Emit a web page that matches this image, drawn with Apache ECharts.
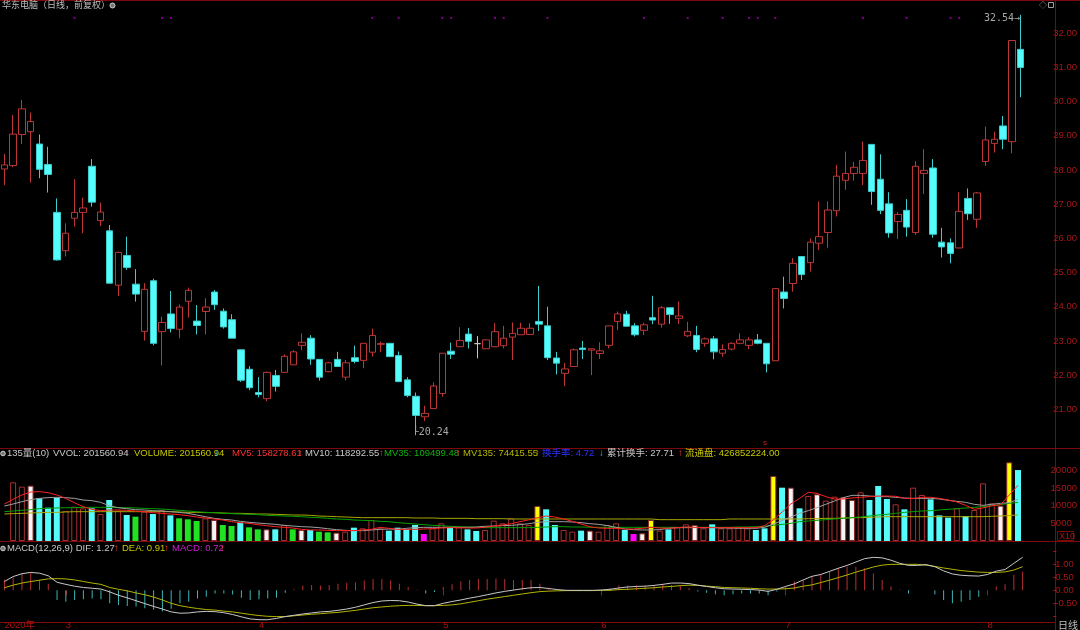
<!DOCTYPE html>
<html><head><meta charset="utf-8">
<script src="https://cdn.jsdelivr.net/npm/echarts@6/dist/echarts.min.js"></script>
<style>html,body{margin:0;padding:0;background:#000;}#c{width:1080px;height:630px;}</style>
</head><body><div id="c"></div>
<script>
// ---------- data ----------
const opens = [28.03,28.13,29.04,29.12,28.76,28.16,26.76,25.64,26.59,26.76,
28.11,26.52,26.22,24.63,25.50,24.66,23.28,24.76,23.27,23.79,
23.34,24.16,23.58,23.86,24.43,23.87,23.62,22.74,22.17,21.49,
21.31,21.99,22.08,22.30,22.87,23.08,22.46,22.10,22.46,21.94,
22.51,22.43,22.67,22.90,22.93,22.57,21.86,21.38,20.78,21.02,
21.46,22.70,22.83,23.20,22.92,22.77,22.83,22.86,23.11,23.18,
23.19,23.57,23.44,22.50,22.05,22.25,22.79,22.73,22.63,22.87,
23.57,23.78,23.44,23.31,23.68,23.49,23.97,23.66,23.15,23.16,
22.93,23.06,22.64,22.76,22.93,22.87,23.03,22.93,22.42,24.43,
24.68,25.47,25.29,25.86,26.17,26.81,27.70,27.90,27.90,28.75,
27.73,27.01,26.49,26.82,26.17,27.90,28.06,25.89,25.87,25.72,
27.17,26.56,28.25,28.78,29.29,28.83,31.53];
const closes = [28.15,29.05,29.79,29.42,28.02,27.87,25.37,26.15,26.76,26.89,
27.06,26.77,24.69,25.59,25.15,24.37,24.51,22.93,23.54,23.36,
23.99,24.48,23.45,23.99,24.06,23.41,23.08,21.85,21.63,21.43,
22.08,21.67,22.55,22.68,22.96,22.47,21.94,22.36,22.25,22.36,
22.40,22.93,23.16,22.92,22.54,21.81,21.40,20.82,20.88,21.68,
22.64,22.61,23.01,22.99,22.92,23.03,23.27,23.08,23.22,23.37,
23.37,23.49,22.51,22.35,22.18,22.74,22.75,22.77,22.71,23.44,
23.79,23.43,23.18,23.47,23.61,23.97,23.77,23.73,23.28,22.75,
23.06,22.68,22.75,22.93,23.03,23.03,22.93,22.33,24.53,24.24,
25.27,24.94,25.89,26.05,26.83,27.82,27.90,28.08,28.28,27.37,
26.82,26.16,26.70,26.33,28.11,27.99,26.12,25.75,25.56,26.79,
26.72,27.33,28.88,28.90,28.90,31.79,31.00];
const lows = [27.56,28.08,28.76,27.63,27.76,27.34,25.35,25.47,26.34,26.15,
26.93,26.36,24.68,24.31,25.08,24.15,23.01,22.87,22.28,23.25,
23.08,23.68,23.19,23.19,23.91,23.36,23.08,21.80,21.56,21.35,
21.24,21.52,22.07,22.30,22.73,22.30,21.84,22.08,22.25,21.84,
22.34,22.20,22.54,22.67,22.54,21.79,21.35,20.24,20.66,21.01,
21.37,22.47,22.83,22.78,22.49,22.76,22.83,22.78,22.44,23.18,
23.17,23.29,22.44,22.02,21.68,22.25,22.47,22.00,22.47,22.78,
23.32,23.42,23.13,23.17,23.49,23.39,23.50,23.49,23.11,22.67,
22.83,22.46,22.54,22.72,22.90,22.76,22.90,22.08,22.42,23.95,
24.44,24.78,25.03,25.66,25.73,26.64,27.42,27.69,27.56,26.98,
26.71,26.02,25.98,26.05,26.10,27.30,26.02,25.44,25.27,25.71,
26.54,26.31,28.12,28.51,28.61,28.49,30.13];
const highs = [28.47,29.61,30.05,29.68,29.04,28.68,27.17,26.44,27.73,27.19,
28.32,27.05,26.39,25.61,26.05,25.10,24.69,24.82,23.71,24.46,
24.07,24.56,24.05,24.25,24.49,23.95,23.78,22.74,22.26,21.94,
22.10,22.15,22.61,22.73,23.22,23.17,22.46,22.39,22.68,22.44,
22.86,22.93,23.36,22.98,22.93,22.69,21.94,21.49,21.10,21.79,
22.64,22.95,23.40,23.38,23.14,23.05,23.52,23.44,23.54,23.53,
23.52,24.61,24.00,22.68,22.35,22.78,23.00,22.78,22.96,23.44,
23.86,23.88,23.52,23.53,24.32,24.02,23.97,24.15,23.56,23.44,
23.10,23.14,22.90,22.96,23.22,23.11,23.20,22.93,24.55,24.88,
25.42,25.47,26.00,27.08,27.08,28.15,28.54,28.24,28.83,28.75,
28.46,27.35,26.77,27.15,28.26,28.61,28.32,26.31,26.00,27.35,
27.46,27.36,29.27,29.12,29.58,31.79,32.54];

const volumes = [null,166700,154400,157200,121200,94700,123100,85200,97500,92800,
92800,76700,116500,86200,73900,69100,83300,76700,88100,72900,
64400,61600,56800,64400,59700,45500,42600,52100,38800,33100,
33100,33100,45500,33100,31300,31300,26500,24600,23700,26500,
37900,36000,59700,36000,29400,37900,33100,45500,19900,36000,
50200,38800,38800,33100,28400,31300,57800,50200,64400,50200,
45500,99400,90000,45500,31300,26500,29400,29400,26500,45500,
50200,31300,19900,21800,59700,29400,33100,38800,47300,45500,
36000,47300,36000,36000,38800,36000,31300,36000,184700,151500,
151500,92800,127800,132600,114600,125900,124100,116500,138300,116500,
156300,119300,104200,90000,151500,130700,118400,72900,66300,92800,
71000,88100,163800,107000,100400,223500,201561];
// bar class of the "135量" indicator: R hollow red, C cyan, W white, G green, Y yellow, M magenta
const volKind = "-RRWCCCRRR" + "CRCRCGRCRC" + "GGGRWGGCGG" + "WCRGWCGGWR" + "CRRRCCCCMR" +
                "RCRCCRRRRR" + "RYCCRRCWRR" + "RCMWYRCRRW" + "RCRRRRCCYC" + "WCRWRRWWRC" +
                "CCRCRRCCCR" + "CRRRWYC";

const mv5 = [105100,118400,130700,139200,140200,137300,130700,121200,108900,97500,
90000,86200,88100,88100,87100,85200,83300,80500,78600,76700,
74800,72000,68200,65300,62500,59700,54900,52100,50200,46400,
43600,40700,38800,36900,33100,31300,31300,30300,29400,29400,
29400,31300,33100,38800,36000,33100,33100,33100,34100,35000,
36900,37900,37900,36900,36900,38800,42600,45500,49200,54900,
60000,66000,71000,68200,62500,55900,48300,40700,36900,36000,
36000,34100,34100,36000,38800,36900,36000,37900,39800,38800,
37900,37900,37900,37900,37900,37900,37900,43600,60000,82000,
105000,121200,138300,135400,126000,119300,119300,122200,124100,126000,
127800,127800,126900,121200,120300,124100,124100,121200,116500,110800,
101300,90000,94000,100000,103200,130700,158279];
const mv10 = [99400,105100,111700,117400,121200,123100,124100,123100,121200,116500,
114600,109900,100400,94700,91900,89000,88100,86200,85200,83300,
81400,78600,73900,69100,64400,61600,59700,55900,53000,51100,
49200,47400,44500,42600,40700,39800,37900,35000,32200,30300,
29400,29400,31300,33100,34100,33100,36000,37900,38800,38800,
38800,38800,38800,38800,39800,41700,42600,43600,44500,46400,
49000,53000,54900,54900,54900,54000,52100,49200,47400,43600,
38800,34100,32200,31300,31300,32200,36000,37900,37900,37900,
37900,37900,36900,36900,36000,36000,36000,38800,48000,58000,
68000,78600,86200,94700,104200,113600,123100,129700,129700,127800,
126000,126000,124100,122200,121200,121200,121200,119300,115500,112700,
109900,104200,101300,104200,107000,108900,118293];
const mv35 = [83300,85200,87100,89000,91900,92800,93800,94700,94700,95600,
95600,95600,95600,94700,94700,93800,92800,91900,90900,89000,
87100,85200,83300,81400,80500,78600,77700,76700,75800,74800,
72900,72000,71000,70100,69100,67200,66300,64400,62500,61600,
59700,58700,57800,55900,54900,52100,50200,48300,46400,44500,
43600,41700,40700,39800,38800,37900,37900,37900,37900,37900,
37900,38800,39800,40700,40700,39800,39800,38800,38800,38800,
38800,38800,38800,38800,38800,38800,38800,38800,38800,38800,
38800,38800,38800,38800,39800,39800,40700,41700,44500,47400,
50200,54900,56800,58700,60600,62500,64400,66300,68200,71000,
73900,75800,78600,81400,83300,85200,86200,88100,90000,91900,
93800,95600,97500,100400,103200,107000,109499];
const mv135 = [76700,77700,78600,79500,80500,81400,81400,82400,83300,83300,
83300,83300,83300,83300,83300,83300,83300,83300,83300,83300,
82400,81400,81400,80500,80500,79500,78600,78600,77700,76700,
76700,75800,74800,73900,73900,72900,71000,70100,69100,68200,
67200,66300,66300,66300,66300,66300,66300,65300,65300,65300,
64400,64400,64400,64400,63400,63400,63400,63400,62500,62500,
62500,62500,62500,62500,62500,62500,62500,62500,62500,62500,
62500,62500,62500,62500,62500,60600,60600,60600,60600,60600,
60600,60600,60600,62500,62500,62500,62500,62500,62500,62500,
62500,62500,63400,63400,64400,64400,65300,66300,66300,67200,
68200,69100,69100,69100,69100,69100,69100,69100,69100,69100,
69100,69100,69100,70100,71000,72000,74416];

const dif = [0.34,0.53,0.64,0.69,0.66,0.56,0.31,0.23,0.16,0.11,
0.08,0.05,-0.06,-0.19,-0.29,-0.40,-0.51,-0.62,-0.72,-0.83,
-0.88,-0.87,-0.83,-0.81,-0.82,-0.86,-0.93,-1.02,-1.10,-1.13,
-1.13,-1.08,-1.01,-0.96,-0.91,-0.87,-0.83,-0.81,-0.77,-0.72,
-0.65,-0.56,-0.47,-0.41,-0.39,-0.40,-0.45,-0.53,-0.59,-0.59,
-0.50,-0.43,-0.37,-0.30,-0.24,-0.17,-0.10,-0.04,0.01,0.06,
0.10,0.11,0.07,0.03,0.00,0.00,0.00,0.00,0.01,0.04,
0.09,0.13,0.15,0.16,0.19,0.23,0.28,0.28,0.26,0.20,
0.15,0.10,0.06,0.05,0.04,0.03,0.01,-0.04,0.04,0.15,
0.25,0.40,0.54,0.61,0.73,0.85,0.96,1.09,1.22,1.27,
1.25,1.16,1.04,0.96,0.96,0.99,0.91,0.75,0.63,0.58,
0.56,0.55,0.61,0.74,0.80,1.04,1.27];
const dea = [0.10,0.20,0.28,0.34,0.39,0.44,0.45,0.44,0.40,0.34,
0.28,0.23,0.11,0.04,-0.02,-0.10,-0.17,-0.26,-0.37,-0.50,
-0.59,-0.65,-0.70,-0.74,-0.76,-0.80,-0.83,-0.88,-0.93,-0.97,
-1.00,-1.01,-1.01,-0.98,-0.95,-0.92,-0.90,-0.87,-0.85,-0.81,
-0.77,-0.72,-0.67,-0.64,-0.61,-0.59,-0.58,-0.58,-0.59,-0.59,
-0.58,-0.56,-0.52,-0.46,-0.40,-0.34,-0.29,-0.24,-0.19,-0.14,
-0.09,-0.05,-0.03,-0.02,-0.01,-0.01,-0.01,-0.01,0.00,0.00,
0.03,0.04,0.06,0.08,0.10,0.13,0.15,0.18,0.20,0.19,
0.16,0.14,0.11,0.10,0.09,0.08,0.06,0.05,0.05,0.06,
0.09,0.16,0.21,0.30,0.39,0.49,0.59,0.70,0.80,0.90,
0.97,1.00,1.00,1.00,1.00,0.97,0.92,0.86,0.81,0.76,
0.73,0.70,0.69,0.69,0.71,0.78,0.91];
const macd = [0.41,0.50,0.66,0.69,0.41,0.25,-0.37,-0.44,-0.37,-0.34,
-0.31,-0.34,-0.50,-0.56,-0.60,-0.62,-0.69,-0.75,-0.81,-0.71,
-0.50,-0.44,-0.31,-0.25,-0.12,-0.12,-0.16,-0.29,-0.37,-0.34,
-0.31,-0.29,-0.09,0.04,0.19,0.21,0.19,0.21,0.25,0.29,
0.31,0.38,0.44,0.44,0.38,0.25,0.13,0.02,-0.12,-0.06,
0.13,0.23,0.35,0.40,0.44,0.44,0.46,0.44,0.40,0.40,
0.40,0.25,0.10,0.04,0.02,0.00,-0.01,0.00,0.02,0.09,
0.19,0.19,0.19,0.19,0.19,0.25,0.21,0.19,0.09,-0.04,
-0.09,-0.15,-0.19,-0.15,-0.12,-0.12,-0.12,-0.19,-0.04,0.13,
0.34,0.40,0.54,0.63,0.73,0.85,0.91,0.91,0.85,0.65,
0.40,0.15,0.02,-0.12,0.00,0.00,-0.16,-0.37,-0.50,-0.44,
-0.37,-0.25,0.00,0.15,0.23,0.60,0.72];

const infoMineIdx = [8,18,19,42,45,50,51,56,57,62,73,78,82,85,86,88,98,103,108,109];
const infoMineLevel = 32.45;
const monthStartIdx = [0,7,29,50,68,89,112];
const monthNames = ['2020年','3','4','5','6','7','8'];

// ---------- layout / styles ----------
const SLOTS = 120;
const cats = Array.from({length: SLOTS}, (_, i) => i);
const GL = -1, GW = 1056;
const RED = '#be3636', CYAN = '#54fcfc', AXIS = '#7c0a0a', LBL = '#a81818';
const FONT = '"Liberation Sans","Noto Sans CJK SC",sans-serif';

const kinds = {
  R: {color: '#000', borderColor: '#a83030', borderWidth: 1},
  C: {color: CYAN, borderColor: CYAN, borderWidth: 0},
  W: {color: '#f4f4f4', borderColor: '#8a2a2a', borderWidth: 1},
  G: {color: '#22e022', borderColor: '#22e022', borderWidth: 0},
  Y: {color: '#ffff00', borderColor: '#8a2a2a', borderWidth: 1},
  M: {color: '#ff00ff', borderColor: '#ff00ff', borderWidth: 0}
};
const volData = volumes.map((v, i) => v == null ? '-' : {value: v, itemStyle: kinds[volKind[i]]});
const kData = opens.map((o, i) => [o, closes[i], lows[i], highs[i]]);
const macdData = macd.map(v => ({value: v, itemStyle: {color: v >= 0 ? '#b83030' : '#3cb4b8'}}));

let hiIdx = 0, loIdx = 0;
highs.forEach((h, i) => { if (h > highs[hiIdx]) hiIdx = i; });
lows.forEach((l, i) => { if (l < lows[loIdx]) loIdx = i; });

function txt(x, y, text, color, size) {
  return {type: 'text', x: x, y: y, silent: true,
    style: {text: text, fill: color, fontSize: size || 9.5, fontFamily: FONT, verticalAlign: 'middle'}};
}
function hline(y, x1, x2) { return {type: 'line', silent: true, shape: {x1: x1, y1: y, x2: x2, y2: y}, style: {stroke: AXIS, lineWidth: 1}}; }

const UP = '#ff3c3c', DN = '#30c8c8';
const volLegend = [
  [7,'135量(10)','#c8c8c8'],[53,'VVOL: 201560.94','#c8c8c8'],[125,'↑',UP],
  [134,'VOLUME: 201560.94','#c8c800'],[214,'↓',DN],
  [232,'MV5: 158278.61','#ff3030'],[298,'↑',UP],
  [305,'MV10: 118292.55','#c8c8c8'],[379,'↑',UP],
  [384,'MV35: 109499.48','#10b010'],[456,'↑',UP],
  [463,'MV135: 74415.55','#b8b800'],[535,'↑',UP],
  [542,'换手率: 4.72','#3030ff'],[599,'↓',DN],
  [607,'累计换手: 27.71','#c8c8c8'],[678,'↑',UP],
  [685,'流通盘: 426852224.00','#c8c800']
];
const macdLegend = [
  [7,'MACD(12,26,9) DIF: 1.27','#c8c8c8'],[114,'↑',UP],
  [122,'DEA: 0.91','#c8c800'],[164,'↑',UP],
  [172,'MACD: 0.72','#d020d0'],[220,'↑',UP]
];

const graphics = [
  hline(0.5, 0, 1080), hline(448.5, 0, 1080), hline(541.5, 0, 1080), hline(622.5, 0, 1056),
  {type: 'line', silent: true, shape: {x1: 1055.5, y1: 0, x2: 1055.5, y2: 630}, style: {stroke: AXIS, lineWidth: 1}},
  txt(2, 6, '华东电脑（日线，前复权）', '#c0c0c0', 9),
  {type: 'circle', silent: true, shape: {cx: 112.5, cy: 5.5, r: 2.5}, style: {fill: '#777', stroke: '#cfcfcf', lineWidth: 1}},
  txt(1039, 6, '◇', '#a0a0a0', 8),
  {type: 'rect', silent: true, shape: {x: 1048.5, y: 2.5, width: 5, height: 5}, style: {fill: '#000', stroke: '#a0a0a0', lineWidth: 1}},
  {type: 'circle', silent: true, shape: {cx: 3, cy: 453.5, r: 2.3}, style: {fill: '#777', stroke: '#cfcfcf', lineWidth: 1}},
  {type: 'circle', silent: true, shape: {cx: 3, cy: 548.5, r: 2.3}, style: {fill: '#777', stroke: '#cfcfcf', lineWidth: 1}},
  txt(763, 443, 's', '#d02020', 8),
  {type: 'rect', silent: true, shape: {x: 1057.5, y: 531.5, width: 16, height: 9}, style: {fill: 'none', stroke: AXIS, lineWidth: 1}},
  txt(1059, 536.5, 'X10', LBL, 9),
  txt(1058, 626, '日线', '#c0c0c0', 10)
].concat(volLegend.map(s => txt(s[0], 453.5, s[1], s[2])))
 .concat(macdLegend.map(s => txt(s[0], 548.5, s[1], s[2])));

const hiddenX = (gi) => ({type: 'category', data: cats, gridIndex: gi, boundaryGap: true,
  axisLine: {show: false}, axisTick: {show: false}, axisLabel: {show: false}, splitLine: {show: false}});

const option = {
  backgroundColor: '#000',
  animation: false,
  grid: [
    {left: GL, width: GW, top: 5, height: 442},
    {left: GL, width: GW, top: 448, height: 93},
    {left: GL, width: GW, top: 541, height: 81.7}
  ],
  xAxis: [hiddenX(0), hiddenX(1), {
    type: 'category', data: cats, gridIndex: 2, boundaryGap: true,
    axisLine: {show: false},
    axisTick: {show: true, alignWithLabel: true, length: 5, lineStyle: {color: '#a01818'},
      interval: (i) => monthStartIdx.indexOf(i) > 0},
    axisLabel: {show: true, interval: (i) => monthStartIdx.indexOf(i) >= 0,
      formatter: (v, i) => { const k = monthStartIdx.indexOf(i); return k >= 0 ? monthNames[k] : ''; },
      align: 'left', margin: 0, padding: [0, 0, 0, 0], color: '#b01010', fontSize: 9.5, fontFamily: FONT},
    splitLine: {show: false}
  }],
  yAxis: [
    {type: 'value', gridIndex: 0, position: 'right', min: 19.896, max: 32.828, splitNumber: 13,
      axisLine: {show: false}, axisTick: {show: false}, splitLine: {show: false},
      axisLabel: {margin: 2, color: LBL, fontSize: 9.5, fontFamily: FONT, showMinLabel: false, showMaxLabel: false,
        formatter: v => (Math.abs(v - Math.round(v)) < 1e-6 && v >= 20.5 && v <= 32.5) ? v.toFixed(2) : ''}},
    {type: 'value', gridIndex: 1, position: 'right', min: 0, max: 264200, interval: 50000,
      axisLine: {show: false}, axisTick: {show: false}, splitLine: {show: false},
      axisLabel: {margin: 2, color: LBL, fontSize: 9.5, fontFamily: FONT,
        formatter: v => (v > 0 && v <= 200000) ? String(Math.round(v / 10)) : ''}},
    {type: 'value', gridIndex: 2, position: 'right', min: -1.161, max: 1.899, splitNumber: 6,
      axisLine: {show: false}, splitLine: {show: false},
      axisTick: {show: true, length: 3, inside: false, lineStyle: {color: LBL}},
      axisLabel: {margin: 2, color: LBL, fontSize: 9.5, fontFamily: FONT, showMinLabel: false, showMaxLabel: false,
        formatter: v => (v >= -0.51 && v <= 1.01) ? v.toFixed(2) : ''}}
  ],
  series: [
    {type: 'candlestick', xAxisIndex: 0, yAxisIndex: 0, data: kData, barWidth: 7,
      itemStyle: {color: '#000', color0: CYAN, borderColor: RED, borderColor0: '#3ccccc', borderColorDoji: '#c8c8c8', borderWidth: 1},
      markPoint: {symbol: 'rect', symbolSize: 1, itemStyle: {color: 'rgba(0,0,0,0)'}, silent: true,
        label: {show: true, color: '#a8a8a8', fontSize: 10, fontFamily: '"DejaVu Sans Mono",' + FONT},
        data: [
          {coord: [hiIdx, highs[hiIdx]], label: {position: 'left', distance: 0, offset: [0, 4], formatter: highs[hiIdx].toFixed(2) + '→'}},
          {coord: [loIdx, lows[loIdx]], label: {position: 'right', distance: 0, offset: [-4, -3], formatter: '└' + lows[loIdx].toFixed(2)}}
        ]}},
    {type: 'scatter', xAxisIndex: 0, yAxisIndex: 0, symbol: 'rect', symbolSize: 2, silent: true,
      itemStyle: {color: '#a000b0'}, data: infoMineIdx.map(i => [i, infoMineLevel])},
    {type: 'bar', xAxisIndex: 1, yAxisIndex: 1, data: volData, barWidth: 6},
    {type: 'line', xAxisIndex: 1, yAxisIndex: 1, data: mv135, showSymbol: false, lineStyle: {color: '#a8a800', width: 1}},
    {type: 'line', xAxisIndex: 1, yAxisIndex: 1, data: mv35, showSymbol: false, lineStyle: {color: '#00a000', width: 1}},
    {type: 'line', xAxisIndex: 1, yAxisIndex: 1, data: mv10, showSymbol: false, lineStyle: {color: '#a0a0a0', width: 1}},
    {type: 'line', xAxisIndex: 1, yAxisIndex: 1, data: mv5, showSymbol: false, lineStyle: {color: '#ff2020', width: 1}},
    {type: 'bar', xAxisIndex: 2, yAxisIndex: 2, data: macdData, barWidth: 1},
    {type: 'line', xAxisIndex: 2, yAxisIndex: 2, data: dea, showSymbol: false, lineStyle: {color: '#b4b400', width: 1}},
    {type: 'line', xAxisIndex: 2, yAxisIndex: 2, data: dif, showSymbol: false, lineStyle: {color: '#c8c8c8', width: 1}}
  ],
  graphic: graphics
};
const chart = echarts.init(document.getElementById('c'), null, {renderer: 'canvas'});
chart.setOption(option);
</script>
</body></html>
